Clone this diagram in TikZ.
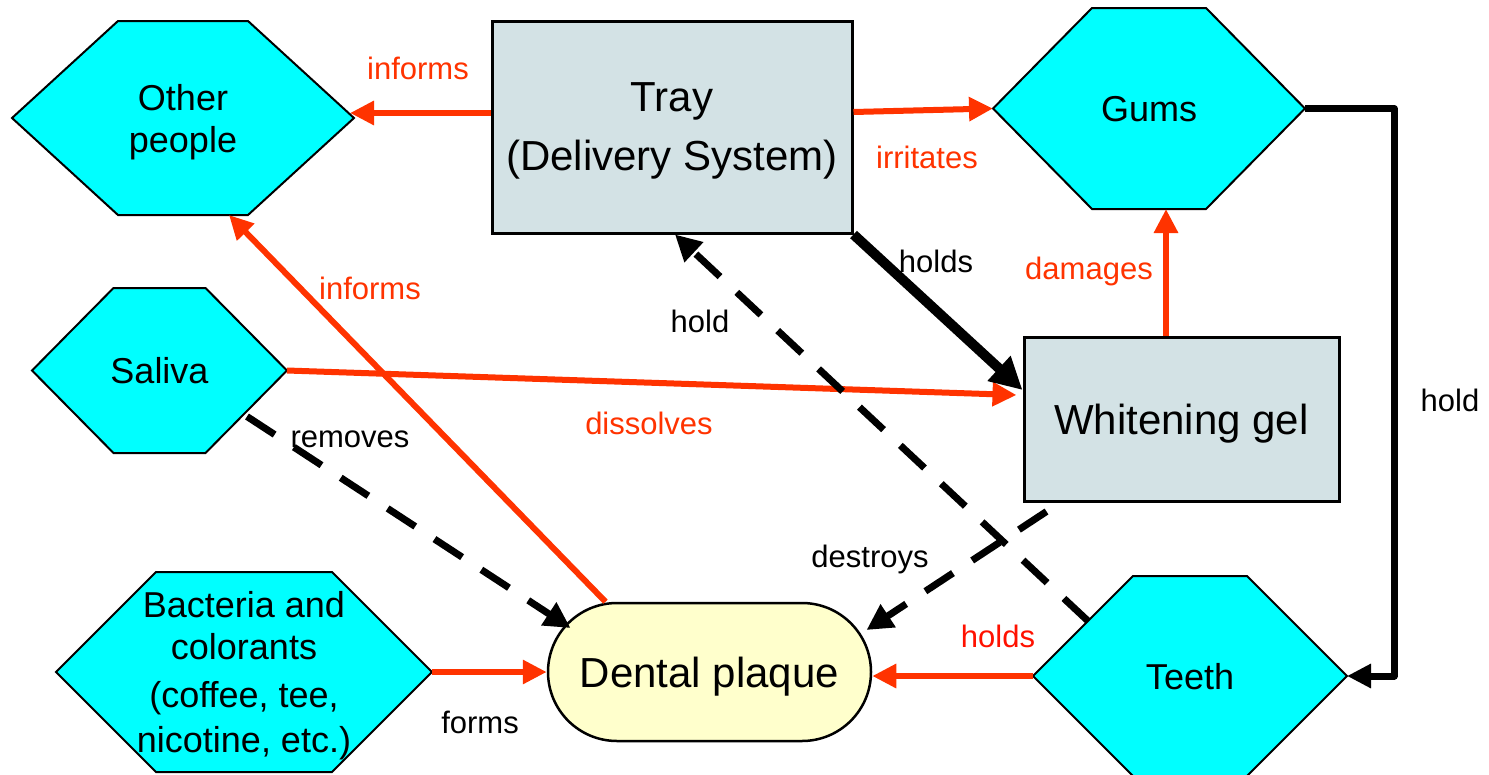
\documentclass[tikz,border=0pt]{standalone}
\usepackage{fontspec}
\setmainfont{Liberation Sans}
\usetikzlibrary{arrows.meta, shapes.misc, calc}

\definecolor{linkred}{HTML}{FF3300}
\definecolor{holdred}{HTML}{FF1100}
\definecolor{hexcyan}{HTML}{00FFFF}
\definecolor{boxgray}{HTML}{D3E2E5}
\definecolor{plaqueyellow}{HTML}{FFFFCC}

% hexagon: name, cx, cy, half width, inset, half height, text
\newcommand{\hexnode}[7]{%
	\draw[hexframe] (#2-#4,#3) -- (#2-#4+#5,#3-#6) -- (#2+#4-#5,#3-#6)
	-- (#2+#4,#3) -- (#2+#4-#5,#3+#6) -- (#2-#4+#5,#3+#6) -- cycle;
	\coordinate (#1-w) at (#2-#4,#3);
	\coordinate (#1-e) at (#2+#4,#3);
	\coordinate (#1-n) at (#2,#3-#6);
	\coordinate (#1-s) at (#2,#3+#6);
	\node[hextext] (#1) at (#2,#3) {#7};
}

\begin{document}
\begin{tikzpicture}[x=1pt, y=-1pt,
	hexframe/.style={draw=black, line width=2pt, fill=hexcyan},
	hextext/.style={align=center, inner sep=0pt, text depth=0pt, font=\fontsize{36}{42}\selectfont},
	boxnode/.style={draw=black, line width=3pt, fill=boxgray, align=center, inner sep=0pt, text depth=0pt, font=\fontsize{42}{59}\selectfont},
	redlink/.style={draw=linkred, line width=6pt, -{Triangle[length=24pt,width=23pt]}},
	blacklink/.style={draw=black, line width=7pt, line join=round, -{Triangle[length=24pt,width=23pt]}},
	dashlink/.style={draw=black, line width=7pt, dash pattern=on 33pt off 23pt, -{Triangle[length=26pt,width=26pt]}},
	lbl/.style={anchor=base, inner sep=0pt, font=\fontsize{31}{36}\selectfont},
	redlbl/.style={lbl, text=linkred}]
	
	\useasboundingbox (0,0) rectangle (1489,774);
	
	% === HEXAGONS ===
	\hexnode{oth}{183}{118}{171}{106}{97}{Other\\people}
	\hexnode{gums}{1149}{108.5}{156}{99}{100.5}{Gums}
	\hexnode{sal}{159.5}{370.5}{127.5}{81.5}{82.5}{Saliva}
	\hexnode{bac}{244}{672}{188}{100}{100}{Bacteria and\\colorants\\[6pt](coffee, tee,\\[3pt]nicotine, etc.)}
	\hexnode{teeth}{1190}{676}{157}{100}{100}{Teeth}
	
	% === BOXES ===
	\node[boxnode, minimum width=360pt, minimum height=212pt] (tray) at (672,127) {Tray\\(Delivery System)};
	\node[boxnode, minimum width=315pt, minimum height=164pt] (gel) at (1181.5,419) {Whitening gel};
	\node[rounded rectangle, draw=black, line width=2.5pt, fill=plaqueyellow, inner sep=0pt, text depth=0pt,
	minimum width=323pt, minimum height=138pt, font=\fontsize{42}{50}\selectfont] (plaque) at (709.5,672) {Dental plaque};
	
	\coordinate (dmg) at (1166,0);
	
	% === RED LINKS ===
	\draw[redlink] ([yshift=14pt]tray.west) -- ([xshift=-4pt,yshift=5pt]oth-e);
	\draw[redlink] ([yshift=15pt]tray.east) -- (gums-w);
	\draw[redlink] (gel.north -| dmg) -- (gums-s -| dmg);
	\draw[redlink] (sal-e) -- ([xshift=-6pt,yshift=24pt]gel.west);
	\draw[redlink] ([xshift=-104pt]plaque.north) -- ([xshift=46pt]oth-s);
	\draw[redlink] (bac-e) -- (plaque.west);
	\draw[redlink] (teeth-w) -- (teeth-w -| plaque.east);
	
	% === BLACK LINKS ===
	\draw[blacklink] (gums-e) -| ($(teeth-e)+(47,0)$) -- (teeth-e);
	\draw[draw=black, line width=10pt, -{Triangle[length=32pt,width=32pt]}] (tray.south east) -- ([yshift=29pt]gel.west);
	\draw[dashlink] ([xshift=-40pt,yshift=-46pt]sal-e) -- ([xshift=-139pt,yshift=44pt]plaque.center);
	\draw[dashlink] ([xshift=55pt,yshift=55pt]teeth-w) -- ([xshift=3pt]tray.south);
	\draw[dashlink] ([xshift=24pt,yshift=-9pt]gel.south west) -- ([xshift=157pt,yshift=42pt]plaque.center);
	
	% === LABELS ===
	\node[redlbl] (lbl-inf1) at (418,79) {informs};
	\node[redlbl] (lbl-irr) at (927,168) {irritates};
	\node[lbl] (lbl-holds) at (936,272) {holds};
	\node[redlbl] (lbl-dmg) at (1089,279) {damages};
	\node[lbl] (lbl-hold1) at (1450,411) {hold};
	\node[redlbl] (lbl-inf2) at (370,299) {informs};
	\node[lbl] (lbl-hold2) at (700,332) {hold};
	\node[redlbl] (lbl-dis) at (649,434) {dissolves};
	\node[lbl] (lbl-rem) at (350,447) {removes};
	\node[lbl] (lbl-des) at (870,567) {destroys};
	\node[lbl] (lbl-forms) at (480,733) {forms};
	\node[lbl, text=holdred] (lbl-holds2) at (998,647) {holds};
	
\end{tikzpicture}
\end{document}
